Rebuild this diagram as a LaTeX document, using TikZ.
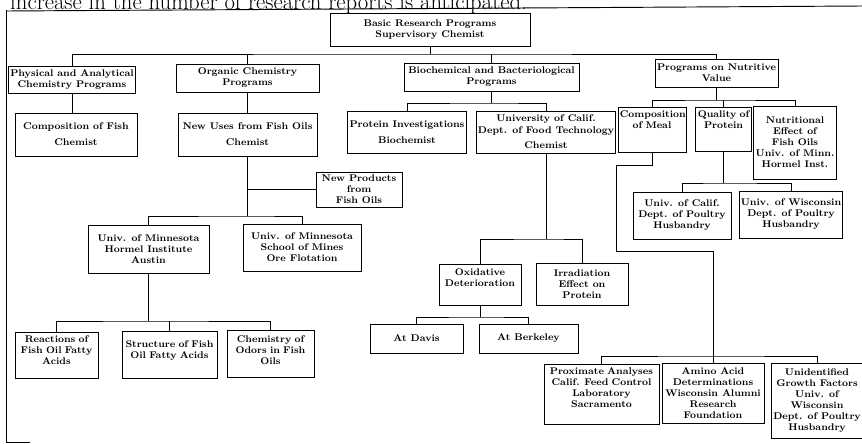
\documentclass[tikz,border=0pt]{standalone}
\usepackage{tikz}

\begin{document}
\begin{tikzpicture}[
  x=0.03cm, y=-0.03cm,
  unit/.style={draw, line width=0.8pt, font=\fontsize{8.3}{9.4}\selectfont\bfseries, align=center, inner sep=1.5pt},
  boxsize/.style 2 args={minimum width=#1*0.03cm, minimum height=#2*0.03cm},
  hang/.style n args={3}{anchor=north, text width=#1*0.03cm-3pt, text height=#3*0.03cm-1.5pt, text depth=#2*0.03cm-#3*0.03cm-1.5pt},
  link/.style={line width=0.8pt}
]
\clip (0,0) rectangle (862,443);

% heading line, cut by the page edge
\node[anchor=base west, inner sep=0, font=\fontsize{19.4}{22}\selectfont] (headline) at (10,9.5) {increase in the number of research reports is anticipated.};

% frame
\draw[link] (6,10) -- (6,442) -- (30,442);
\draw[link] (6,11) -- (862,6);

% first two levels
\node[unit, boxsize={200}{33}] (top) at (430,29.5) {Basic Research Programs\\Supervisory Chemist};
\node[unit, boxsize={122}{27}] (phys) at (72,79.5) {Physical and Analytical\\Chemistry Programs};
\node[unit, boxsize={143}{28}] (org) at (247.5,78) {Organic Chemistry\\Programs};
\node[unit, boxsize={175}{28}] (bio) at (491.5,77) {Biochemical and Bacteriological\\Programs};
\node[unit, boxsize={123}{28}] (nutr) at (716.5,73) {Programs on Nutritive\\Value};

% third level
\node[unit, boxsize={122}{43}] (fishcomp) at (76,134.5) {Composition of Fish\\[4pt]Chemist};
\node[unit, boxsize={139}{43}] (newuses) at (247.5,134.5) {New Uses from Fish Oils\\[4pt]Chemist};
\node[unit, boxsize={118}{42}] (protinv) at (407,132) {Protein Investigations\\[4pt]Biochemist};
\node[unit, boxsize={130}{42}] (ucfood) at (546,132) {University of Calif.\\Dept. of Food Technology\\[4pt]Chemist};
\node[unit, hang={68}{45}{10}] (meal) at (652,107) {Composition\\of Meal};
\node[unit, hang={56}{44}{10}] (quality) at (723.5,107) {Quality of\\Protein};
\node[unit, boxsize={78}{73}] (nutreff) at (795,142.5) {Nutritional\\Effect of\\Fish Oils\\Univ. of Minn.\\Hormel Inst.};

% organic chemistry branch
\node[unit, boxsize={86}{35}] (newprod) at (359,189.5) {New Products\\from\\Fish Oils};
\node[unit, boxsize={121}{48}] (hormel) at (148.5,249) {Univ. of Minnesota\\Hormel Institute\\Austin};
\node[unit, boxsize={118}{47}] (mines) at (302,247.5) {Univ. of Minnesota\\School of Mines\\Ore Flotation};
\node[unit, hang={83}{46}{10}] (reactions) at (56.5,332) {Reactions of\\Fish Oil Fatty\\Acids};
\node[unit, hang={95}{47}{16}] (structure) at (169.5,331) {Structure of Fish\\Oil Fatty Acids};
\node[unit, hang={87}{47}{12}] (chemistry) at (270.5,330) {Chemistry of\\Odors in Fish\\Oils};

% food technology branch
\node[unit, hang={82}{41}{11}] (oxid) at (480,264) {Oxidative\\Deterioration};
\node[unit, boxsize={92}{42}] (irrad) at (582,284) {Irradiation\\Effect on\\Protein};
\node[unit, boxsize={93}{29}] (davis) at (416.5,338.5) {At Davis};
\node[unit, boxsize={99}{29}] (berkeley) at (528.5,338.5) {At Berkeley};

% nutritive value branch
\node[unit, boxsize={98}{47}] (ucpoultry) at (682,215.5) {Univ. of Calif.\\Dept. of Poultry\\Husbandry};
\node[unit, boxsize={102}{47}] (wiscpoultry) at (791,214.5) {Univ. of Wisconsin\\Dept. of Poultry\\Husbandry};
\node[unit, hang={115}{60}{10}] (proximate) at (601.5,364) {Proximate Analyses\\Calif. Feed Control\\Laboratory\\Sacramento};
\node[unit, boxsize={102}{60}] (amino) at (713,393) {Amino Acid\\Determinations\\Wisconsin Alumni\\Research\\Foundation};
\node[unit, boxsize={82}{75}] (unident) at (817,400.5) {Unidentified\\Growth Factors\\Univ. of\\Wisconsin\\Dept. of Poultry\\Husbandry};

% junctions
\coordinate (busA) at (430,54);
\coordinate (busB) at (491.5,103);
\coordinate (busC) at (247.5,216);
\coordinate (busD) at (148.5,321);
\coordinate (busE) at (546,239);
\coordinate (busF) at (480,317);
\coordinate (busG) at (716.5,100);
\coordinate (busH) at (723.5,183);
\coordinate (busI) at (713,356);
\coordinate (bendA) at (616,165);
\coordinate (bendB) at (616,251);

% connectors
\draw[link] (top.south) -- (busA);
\draw[link] (phys.north) |- (busA) -| (nutr.north);
\draw[link] (org.north) -- (org.north |- busA);
\draw[link] (bio.north) -- (bio.north |- busA);
\draw[link] (phys.south) -- (phys.south |- fishcomp.north);
\draw[link] (org.south) -- (newuses.north);
\draw[link] (newuses.south) -- (busC);
\draw[link] (newprod.west) -- (newprod.west -| newuses.south);
\draw[link] (hormel.north) |- (busC) -| (mines.north);
\draw[link] (hormel.south) -- (busD);
\draw[link] (reactions.north) |- (busD) -| (chemistry.north);
\draw[link] (structure.north) -- (structure.north |- busD);
\draw[link] (bio.south) -- (busB);
\draw[link] (protinv.north) |- (busB) -| (ucfood.north);
\draw[link] (ucfood.south) -- (busE);
\draw[link] (oxid.north) |- (busE) -| (irrad.north);
\draw[link] (oxid.south) -- (busF);
\draw[link] (davis.north) |- (busF) -| (berkeley.north);
\draw[link] (nutr.south) -- (busG);
\draw[link] (meal.north) |- (busG) -| (nutreff.north);
\draw[link] (quality.north) -- (quality.north |- busG);
\draw[link] (quality.south) -- (busH);
\draw[link] (ucpoultry.north) |- (busH) -| (wiscpoultry.north);
\draw[link] (meal.south) |- (bendA) -- (bendB) -| (busI);
\draw[link] (proximate.north) |- (busI) -| (unident.north);
\draw[link] (amino.north) -- (busI);

\end{tikzpicture}
\end{document}
